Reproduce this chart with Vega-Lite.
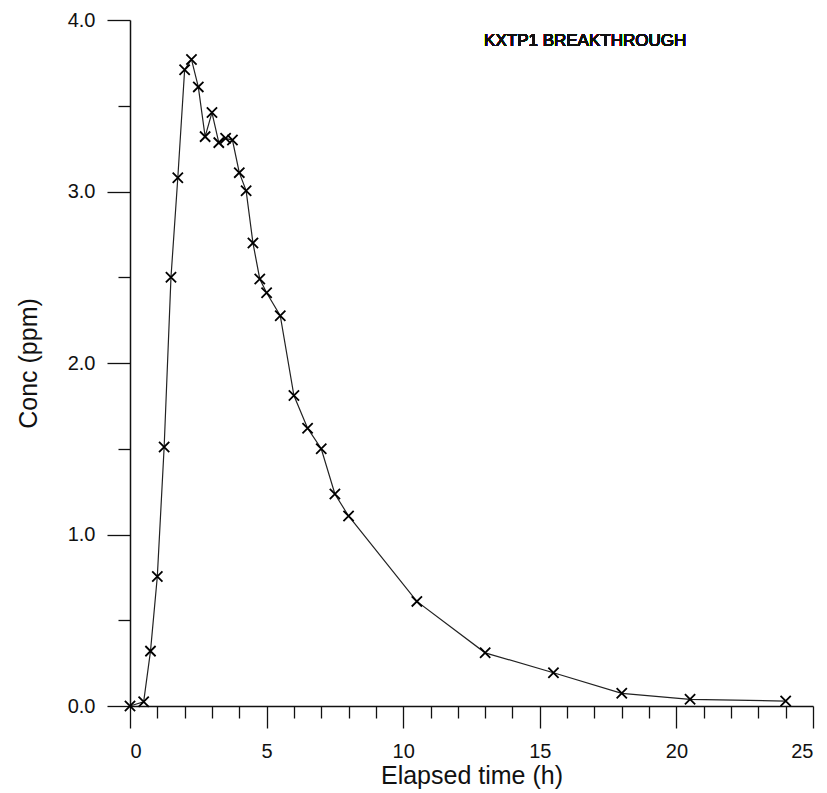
{
  "$schema": "https://vega.github.io/schema/vega-lite/v6.json",
  "autosize": "none",
  "width": 683,
  "height": 686,
  "padding": {"left": 130, "top": 20, "right": 14, "bottom": 87},
  "background": "white",
  "config": {
    "view": {"stroke": null},
    "font": "Liberation Sans",
    "axis": {"grid": false, "domainColor": "#111", "tickColor": "#111", "labelColor": "#111", "titleColor": "#111", "domainWidth": 1.5, "tickWidth": 1.3, "labelFont": "Liberation Sans", "titleFont": "Liberation Sans", "titleFontWeight": "normal"}
  },
  "data": {"values": [
    {"t": 0, "c": 0.0},
    {"t": 0.5, "c": 0.025},
    {"t": 0.75, "c": 0.32},
    {"t": 1.0, "c": 0.755},
    {"t": 1.25, "c": 1.51},
    {"t": 1.5, "c": 2.5},
    {"t": 1.75, "c": 3.08},
    {"t": 2.0, "c": 3.71},
    {"t": 2.25, "c": 3.77},
    {"t": 2.5, "c": 3.61},
    {"t": 2.75, "c": 3.32},
    {"t": 3.0, "c": 3.46},
    {"t": 3.25, "c": 3.285},
    {"t": 3.5, "c": 3.31},
    {"t": 3.75, "c": 3.30},
    {"t": 4.0, "c": 3.11},
    {"t": 4.25, "c": 3.005},
    {"t": 4.5, "c": 2.70},
    {"t": 4.75, "c": 2.49},
    {"t": 5.0, "c": 2.41},
    {"t": 5.5, "c": 2.276},
    {"t": 6.0, "c": 1.81},
    {"t": 6.5, "c": 1.62},
    {"t": 7.0, "c": 1.50},
    {"t": 7.5, "c": 1.236},
    {"t": 8.0, "c": 1.108},
    {"t": 10.5, "c": 0.61},
    {"t": 13.0, "c": 0.31},
    {"t": 15.5, "c": 0.194},
    {"t": 18.0, "c": 0.074},
    {"t": 20.5, "c": 0.039},
    {"t": 24.0, "c": 0.029}
  ]},
  "resolve": {"axis": {"x": "independent", "y": "independent"}},
  "layer": [
    {
      "mark": {"type": "line", "color": "#222", "strokeWidth": 1.2},
      "encoding": {
        "x": {"field": "t", "type": "quantitative", "scale": {"domain": [0, 25], "nice": false, "zero": false},
          "axis": {"orient": "bottom", "values": [0, 5, 10, 15, 20, 25], "tickSize": 22, "labelFontSize": 20, "labelPadding": 13, "title": "Elapsed time (h)", "titleFontSize": 25, "titlePadding": 2}},
        "y": {"field": "c", "type": "quantitative", "scale": {"domain": [0, 4], "nice": false},
          "axis": {"orient": "left", "values": [0, 1, 2, 3, 4], "format": ".1f", "tickSize": 23, "labelFontSize": 20, "labelPadding": 12, "title": "Conc (ppm)", "titleFontSize": 25, "titlePadding": 26}}
      }
    },
    {
      "mark": {"type": "point", "shape": "M-1,-1L1,1M-1,1L1,-1", "filled": false, "color": "#000", "opacity": 1, "size": 105, "strokeWidth": 1.8},
      "encoding": {
        "x": {"field": "t", "type": "quantitative",
          "axis": {"orient": "bottom", "values": [1, 2, 3, 4, 6, 7, 8, 9, 11, 12, 13, 14, 16, 17, 18, 19, 21, 22, 23, 24], "tickSize": 12, "labels": false, "domain": false, "title": null}},
        "y": {"field": "c", "type": "quantitative",
          "axis": {"orient": "left", "values": [0.5, 1.5, 2.5, 3.5], "tickSize": 12, "labels": false, "domain": false, "title": null}}
      }
    },
    {
      "mark": {"type": "text", "text": "KXTP1 BREAKTHROUGH", "align": "left", "baseline": "middle", "fontSize": 17, "color": "#111", "font": "Liberation Sans"},
      "encoding": {
        "x": {"datum": 12.96, "type": "quantitative", "axis": null},
        "y": {"datum": 3.88, "type": "quantitative", "axis": null}
      }
    }
  ]
}
